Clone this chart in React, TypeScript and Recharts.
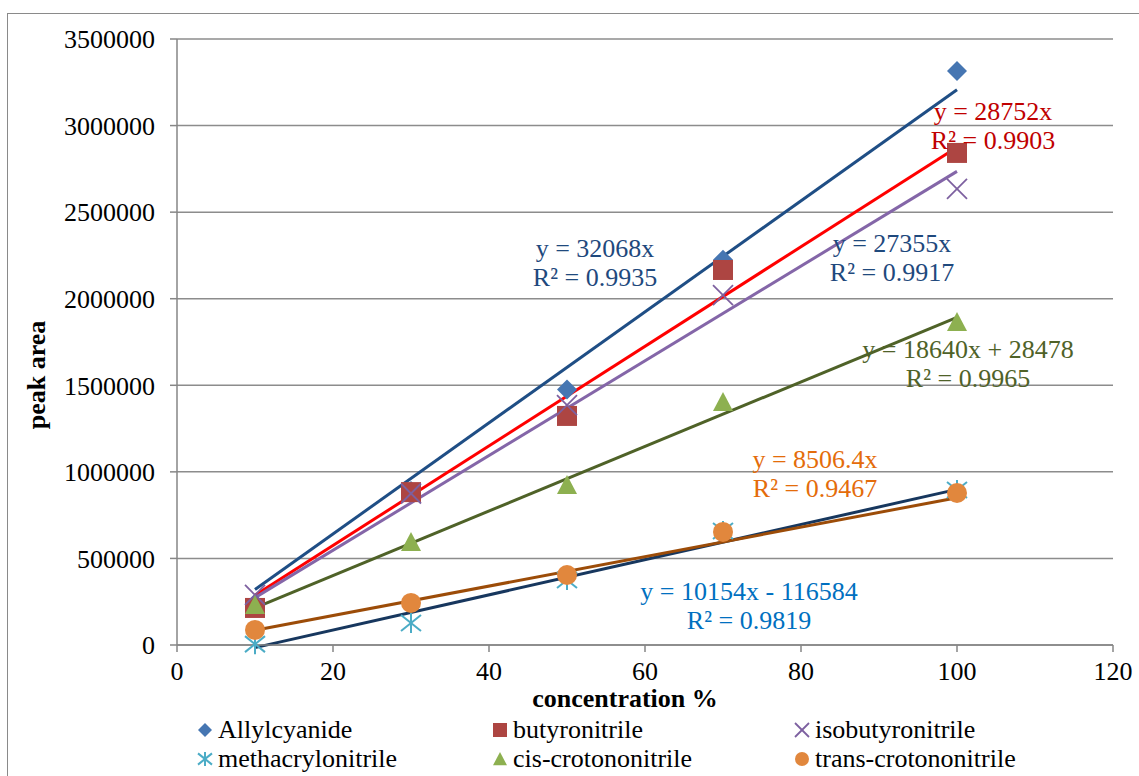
import React from 'react';
import {
  ScatterChart,
  Scatter,
  XAxis,
  YAxis,
  CartesianGrid,
  ReferenceLine,
  Legend,
} from 'recharts';

// concentration levels (%) and measured peak areas for each nitrile
const concentration = [10, 30, 50, 70, 100];
const allylcyanide = [240000, 890000, 1475000, 2225000, 3315000];
const butyronitrile = [214000, 883000, 1323000, 2166000, 2842000];
const isobutyronitrile = [289000, 875000, 1386000, 2021000, 2634000];
const methacrylonitrile = [5000, 127000, 375000, 658000, 895000];
const cisCrotononitrile = [231000, 595000, 924000, 1403000, 1866000];
const transCrotononitrile = [87000, 243000, 404000, 653000, 878000];

// linear fits: y = slope * x + intercept
const fitSlopes = [32068, 28752, 27355, 10154, 18640, 8506.4];
const fitIntercepts = [0, 0, 0, -116584, 28478, 0];
const fitEquations = [
  'y = 32068x',
  'y = 28752x',
  'y = 27355x',
  'y = 10154x - 116584',
  'y = 18640x + 28478',
  'y = 8506.4x',
];
const fitR2 = ['R² = 0.9935', 'R² = 0.9903', 'R² = 0.9917', 'R² = 0.9819', 'R² = 0.9965', 'R² = 0.9467'];

const seriesNames = [
  'Allylcyanide',
  'butyronitrile',
  'isobutyronitrile',
  'methacrylonitrile',
  'cis-crotononitrile',
  'trans-crotononitrile',
];
const seriesValues = [
  allylcyanide,
  butyronitrile,
  isobutyronitrile,
  methacrylonitrile,
  cisCrotononitrile,
  transCrotononitrile,
];

const xTicks = [0, 20, 40, 60, 80, 100, 120];
const yTicks = [0, 500000, 1000000, 1500000, 2000000, 2500000, 3000000, 3500000];

const FONT = '"Liberation Serif", "Times New Roman", serif';
const AXIS = '#868686';

const markerColors = ['#4676B2', '#AD4542', '#7D60A0', '#4BACC6', '#8DB050', '#E1873D'];
const lineColors = ['#1F4E85', '#FF0000', '#8466A8', '#17375E', '#4F6228', '#9C4C08'];
const labelColors = ['#1F497D', '#C00000', '#1F497D', '#0070C0', '#4F6228', '#E46C0A'];

// label placement: centre x, baseline of first line
const labelPos = [
  { x: 595, y: 257 },
  { x: 993, y: 120 },
  { x: 892, y: 252 },
  { x: 749, y: 600 },
  { x: 968, y: 358 },
  { x: 815, y: 468 },
];

type MarkerKind = 'diamond' | 'square' | 'x' | 'star' | 'triangle' | 'circle';
const markerKinds: MarkerKind[] = ['diamond', 'square', 'x', 'star', 'triangle', 'circle'];

function Marker({ kind, cx, cy, color, r }: { kind: MarkerKind; cx: number; cy: number; color: string; r: number }) {
  switch (kind) {
    case 'diamond':
      return <polygon points={`${cx},${cy - r} ${cx + r},${cy} ${cx},${cy + r} ${cx - r},${cy}`} fill={color} />;
    case 'square':
      return <rect x={cx - r} y={cy - r} width={r * 2} height={r * 2} fill={color} />;
    case 'x':
      return (
        <g stroke={color} strokeWidth={1.8}>
          <line x1={cx - r} y1={cy - r} x2={cx + r} y2={cy + r} />
          <line x1={cx - r} y1={cy + r} x2={cx + r} y2={cy - r} />
        </g>
      );
    case 'star':
      return (
        <g stroke={color} strokeWidth={2}>
          <line x1={cx - r} y1={cy - r * 0.8} x2={cx + r} y2={cy + r * 0.8} />
          <line x1={cx - r} y1={cy + r * 0.8} x2={cx + r} y2={cy - r * 0.8} />
          <line x1={cx} y1={cy - r} x2={cx} y2={cy + r} />
        </g>
      );
    case 'triangle':
      return <polygon points={`${cx},${cy - r} ${cx + r},${cy + r * 0.9} ${cx - r},${cy + r * 0.9}`} fill={color} />;
    default:
      return <circle cx={cx} cy={cy} r={r} fill={color} />;
  }
}

const legendCols = [197, 492, 794];
const legendRows = [15, 44];

function ChartLegend() {
  return (
    <div style={{ position: 'relative', width: 1139, height: 70, fontFamily: FONT, fontSize: 26 }}>
      {seriesNames.map((name, i) => (
        <div
          key={name}
          style={{
            position: 'absolute',
            left: legendCols[i % 3],
            top: legendRows[Math.floor(i / 3)],
            display: 'flex',
            alignItems: 'center',
            lineHeight: '29px',
            whiteSpace: 'nowrap',
            color: '#000',
          }}
        >
          <svg width={16} height={16} style={{ marginRight: 5 }}>
            <Marker kind={markerKinds[i]} cx={8} cy={8} color={markerColors[i]} r={7} />
          </svg>
          {name}
        </div>
      ))}
    </div>
  );
}

export default function App() {
  return (
    <div
      style={{
        position: 'fixed',
        left: 0,
        top: 0,
        width: 1139,
        height: 776,
        overflow: 'hidden',
        background: '#fff',
        fontFamily: FONT,
      }}
    >
      <div
        style={{
          position: 'absolute',
          left: 7,
          top: 13,
          width: 1200,
          height: 800,
          border: '1.5px solid #8a8a8a',
        }}
      />
      <div style={{ position: 'absolute', left: 0, top: 0 }}>
        <ScatterChart width={1139} height={776} margin={{ top: 39, right: 26, bottom: 101, left: 0 }}>
          <CartesianGrid vertical={false} stroke="#8c8c8c" strokeWidth={1.5} />
          <XAxis
            type="number"
            dataKey="x"
            domain={[0, 120]}
            ticks={xTicks}
            height={30}
            tickSize={7}
            tickMargin={10}
            stroke={AXIS}
            strokeWidth={1.5}
            tick={{ fill: '#000', fontSize: 26, fontFamily: FONT }}
            label={{
              content: () => (
                <text x={625} y={707} textAnchor="middle" fontFamily={FONT} fontSize={26} fontWeight="bold" fill="#000">
                  concentration %
                </text>
              ),
            }}
          />
          <YAxis
            type="number"
            dataKey="y"
            domain={[0, 3500000]}
            ticks={yTicks}
            width={177}
            tickSize={7}
            tickMargin={15}
            stroke={AXIS}
            strokeWidth={1.5}
            tick={{ fill: '#000', fontSize: 26, fontFamily: FONT }}
            label={{
              content: () => (
                <text
                  x={45}
                  y={375}
                  transform="rotate(-90 45 375)"
                  textAnchor="middle"
                  fontFamily={FONT}
                  fontSize={26}
                  fontWeight="bold"
                  fill="#000"
                >
                  peak area
                </text>
              ),
            }}
          />
          {seriesValues.map((vals, i) => (
            <Scatter
              key={seriesNames[i]}
              name={seriesNames[i]}
              data={concentration.map((x, j) => ({ x, y: vals[j] }))}
              fill={markerColors[i]}
              isAnimationActive={false}
              shape={(p: any) => <Marker kind={markerKinds[i]} cx={p.cx} cy={p.cy} color={markerColors[i]} r={10} />}
            />
          ))}
          {fitSlopes.map((m, i) => (
            <ReferenceLine
              key={`fit-${i}`}
              segment={[
                { x: 10, y: m * 10 + fitIntercepts[i] },
                { x: 100, y: m * 100 + fitIntercepts[i] },
              ]}
              stroke={lineColors[i]}
              strokeWidth={3}
              ifOverflow="visible"
            />
          ))}
          <Legend
            layout="horizontal"
            verticalAlign="middle"
            align="center"
            content={() => <ChartLegend />}
            wrapperStyle={{ top: 700, left: 0, width: 1139 }}
          />
        </ScatterChart>
      </div>
      <svg
        width={1139}
        height={776}
        style={{ position: 'absolute', left: 0, top: 0, pointerEvents: 'none' }}
        fontFamily={FONT}
        fontSize={26}
      >
        {fitEquations.map((eq, i) => (
          <text key={eq} x={labelPos[i].x} y={labelPos[i].y} textAnchor="middle" fill={labelColors[i]}>
            <tspan x={labelPos[i].x}>{eq}</tspan>
            <tspan x={labelPos[i].x} dy={29}>
              {fitR2[i]}
            </tspan>
          </text>
        ))}
      </svg>
    </div>
  );
}
